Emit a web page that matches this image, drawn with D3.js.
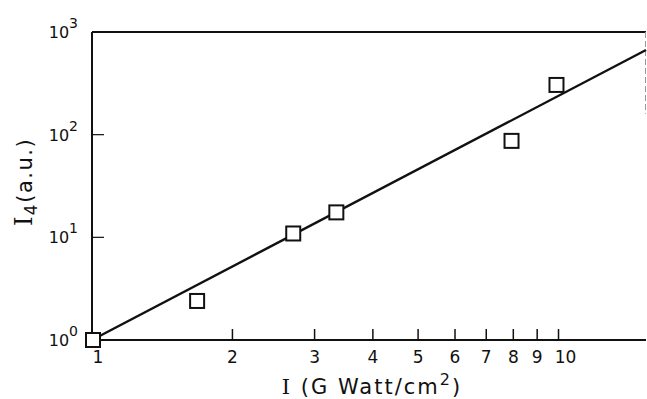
<!DOCTYPE html>
<html>
<head>
<meta charset="utf-8">
<script src="https://cdn.jsdelivr.net/npm/d3@7"></script>
<style>
  html, body { margin: 0; padding: 0; background: #fff; }
  svg { display: block; }
  text { font-family: "DejaVu Sans", sans-serif; fill: #111; }
</style>
</head>
<body>
<div id="chart"></div>
<script>
// measured points: intensity (GW/cm^2) vs I4 (a.u.)
const intensity = [1, 1.68, 2.7, 3.34, 7.93, 9.9];
const signal = [1, 2.4, 10.9, 17.5, 87, 305];

// fitted straight line (log-log), end points
const fitX = [1, 15.4];
const fitY = [1, 668];

const xTicks = [1, 2, 3, 4, 5, 6, 7, 8, 9, 10];
const yTicks = [1, 10, 100, 1000];
const yExponents = ['0', '1', '2', '3'];

const width = 647;
const height = 399;
const margin = { top: 32, right: 1, bottom: 59, left: 92 };

const svg = d3
  .select('#chart')
  .append('svg')
  .attr('width', width)
  .attr('height', height);

const x = d3
  .scaleLog()
  .domain([1, 15.4])
  .range([margin.left, width - margin.right]);

const y = d3
  .scaleLog()
  .domain([1, 1000])
  .range([height - margin.bottom, margin.top]);

const x0 = x.range()[0];
const x1 = x.range()[1];
const yBottom = y.range()[0];
const yTop = y.range()[1];

// frame: left, bottom, top solid; right side only faint and partial
svg.append('line')
  .attr('x1', x0).attr('x2', x0).attr('y1', yTop).attr('y2', yBottom)
  .attr('stroke', '#111').attr('stroke-width', 2);
svg.append('line')
  .attr('x1', x0).attr('x2', x1).attr('y1', yBottom).attr('y2', yBottom)
  .attr('stroke', '#111').attr('stroke-width', 2);
svg.append('line')
  .attr('x1', x0).attr('x2', x1).attr('y1', yTop).attr('y2', yTop)
  .attr('stroke', '#111').attr('stroke-width', 2);
svg.append('line')
  .attr('x1', x1 - 0.5).attr('x2', x1 - 0.5).attr('y1', yTop).attr('y2', y(160))
  .attr('stroke', '#999').attr('stroke-width', 1).attr('stroke-dasharray', '6 3');

// x ticks point inward (upwards)
svg.append('g')
  .selectAll('line')
  .data(xTicks.slice(1))
  .join('line')
  .attr('x1', (d) => x(d))
  .attr('x2', (d) => x(d))
  .attr('y1', yBottom)
  .attr('y2', yBottom - 11)
  .attr('stroke', '#111')
  .attr('stroke-width', 1.5);

svg.append('g')
  .selectAll('text')
  .data(xTicks)
  .join('text')
  .attr('x', (d) => x(d) + (d === 1 ? 6 : d === 10 ? 7 : 0))
  .attr('y', yBottom + 23)
  .attr('text-anchor', 'middle')
  .style('font-size', '17px')
  .text((d) => d);

// y ticks point inward (right)
svg.append('g')
  .selectAll('line')
  .data(yTicks.slice(1, 3))
  .join('line')
  .attr('x1', x0)
  .attr('x2', x0 + 12)
  .attr('y1', (d) => y(d))
  .attr('y2', (d) => y(d))
  .attr('stroke', '#111')
  .attr('stroke-width', 1.2);

const yLabels = svg.append('g')
  .selectAll('text')
  .data(yTicks)
  .join('text')
  .attr('x', x0 - 14)
  .attr('y', (d) => y(d) + 6)
  .attr('text-anchor', 'end')
  .style('font-size', '16px');
yLabels.append('tspan').text('10');
yLabels.append('tspan')
  .attr('dy', -10)
  .style('font-size', '14px')
  .text((d, i) => yExponents[i]);

// fitted line
const line = d3.line()
  .x((d) => x(d[0]))
  .y((d) => y(d[1]));

svg.append('path')
  .datum(d3.zip(fitX, fitY))
  .attr('fill', 'none')
  .attr('stroke', '#111')
  .attr('stroke-width', 2.4)
  .attr('d', line);

// data squares
const size = 14;
svg.append('g')
  .selectAll('rect')
  .data(d3.zip(intensity, signal))
  .join('rect')
  .attr('x', (d) => x(d[0]) - size / 2 + (d[0] === 1 ? 1 : 0))
  .attr('y', (d) => y(d[1]) - size / 2)
  .attr('width', size)
  .attr('height', size)
  .attr('fill', '#fff')
  .attr('stroke', '#111')
  .attr('stroke-width', 2);

// axis titles
const xTitle = svg.append('text')
  .attr('x', 372)
  .attr('y', height - 5)
  .attr('text-anchor', 'middle')
  .style('font-size', '21px')
  .style('letter-spacing', '2px');
xTitle.append('tspan').style('font-family', '"DejaVu Serif", serif').text('I');
xTitle.append('tspan').text(' (G Watt/cm');
xTitle.append('tspan').attr('dy', -9).style('font-size', '16px').text('2');
xTitle.append('tspan').attr('dy', 9).text(')');

const yTitle = svg.append('text')
  .attr('transform', 'translate(32, 182) rotate(-90)')
  .attr('text-anchor', 'middle')
  .style('font-size', '21px')
  .style('letter-spacing', '1.5px');
yTitle.append('tspan').style('font-family', '"DejaVu Serif", serif').style('font-size', '24px').text('I');
yTitle.append('tspan').attr('dy', 5).style('font-size', '17px').text('4');
yTitle.append('tspan').attr('dy', -5).text('(a.u.)');
</script>
</body>
</html>
